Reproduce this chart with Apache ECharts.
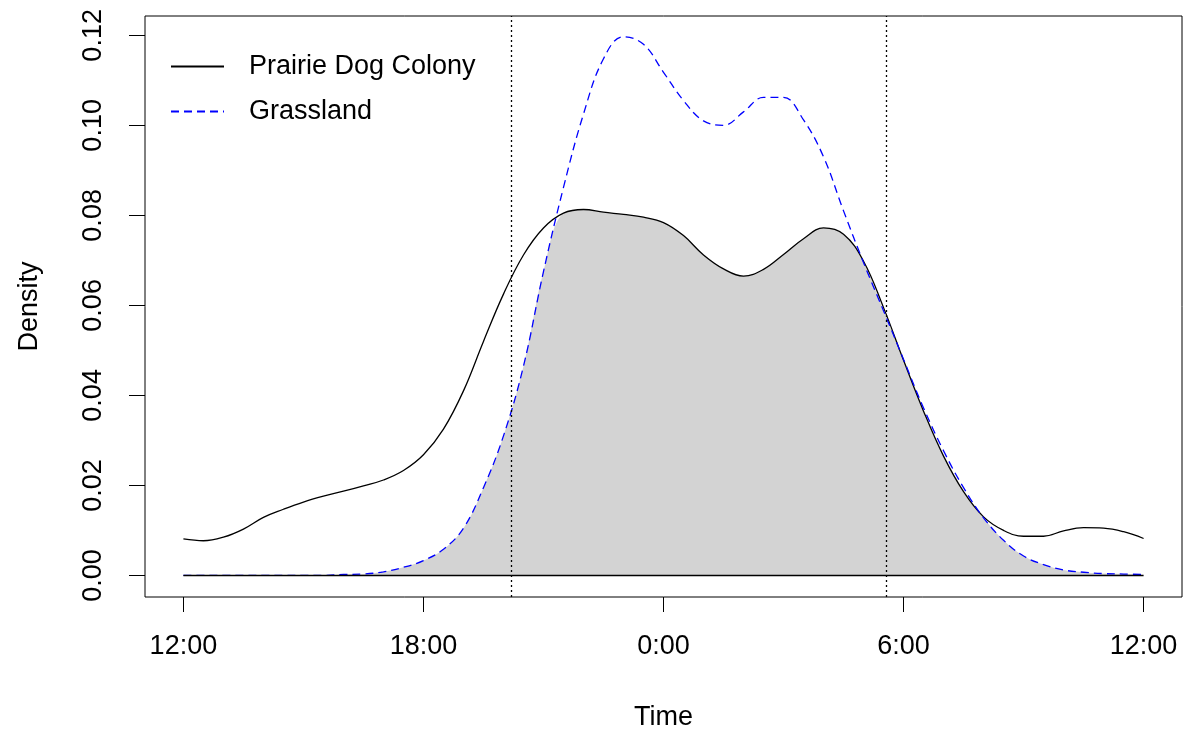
<!DOCTYPE html>
<html>
<head>
<meta charset="utf-8">
<script src="https://cdn.jsdelivr.net/npm/echarts@6/dist/echarts.min.js"></script>
<style>
  html, body { margin: 0; background: #fff; }
  #chart { width: 1183px; height: 732px; }
</style>
</head>
<body>
<div id="chart"></div>
<script>
// hours since 12:00 (noon to noon)
const hours = [0, 0.5, 1, 1.5, 2, 2.5, 3, 3.5, 4, 4.5, 5, 5.5, 6, 6.5, 7, 7.5, 8, 8.5,
  9, 9.5, 10, 10.5, 11, 11.5, 12, 12.5, 13, 13.5, 14, 14.5, 15, 15.5, 16, 16.5, 17,
  17.5, 18, 18.5, 19, 19.5, 20, 20.5, 21, 21.5, 22, 22.5, 23, 23.5, 24];

const colony = [0.0081, 0.0077, 0.0085, 0.0103, 0.0129, 0.0147, 0.0163, 0.0176, 0.0187,
  0.0199, 0.0212, 0.0233, 0.0268, 0.0325, 0.0410, 0.0520, 0.0625, 0.0712, 0.0772, 0.0805,
  0.0813, 0.0807, 0.0802, 0.0796, 0.0784, 0.0755, 0.0712, 0.0681, 0.0665, 0.0680, 0.0713,
  0.0748, 0.0772, 0.0758, 0.0698, 0.0595, 0.0478, 0.0365, 0.0265, 0.0186, 0.0130, 0.0100,
  0.0087, 0.0087, 0.0099, 0.0106, 0.0105, 0.0097, 0.0082];

const grassland = [0, 0, 0, 0, 0, 0, 0, 0, 0.0002, 0.0003, 0.0008, 0.0018, 0.0033, 0.0058,
  0.0105, 0.0195, 0.0310, 0.0465, 0.0675, 0.0862, 0.1025, 0.1148, 0.1197, 0.1180, 0.1118,
  0.1055, 0.1010, 0.1000, 0.1030, 0.1062, 0.1062, 0.1012, 0.0930, 0.0810, 0.0695, 0.0588,
  0.0480, 0.0372, 0.0277, 0.0195, 0.0128, 0.0078, 0.0043, 0.0024, 0.0012, 0.0007, 0.0004,
  0.0003, 0.0002];

const tickHours = [0, 6, 12, 18, 24];
const tickLabels = ["12:00", "18:00", "0:00", "6:00", "12:00"];
const densityTicks = [0, 0.02, 0.04, 0.06, 0.08, 0.1, 0.12];
const cutHours = [8.2, 17.57];

const font = "Liberation Sans, Arial, sans-serif";

const myChart = echarts.init(document.getElementById("chart"));

var option = {
  animation: false,
  backgroundColor: "#fff",
  grid: {
    left: 145,
    right: 1,
    top: 16,
    bottom: 135,
    outerBoundsMode: "none",
    containLabel: false,
    show: true,
    borderColor: "#000",
    borderWidth: 1,
  },
  legend: {
    data: ["Prairie Dog Colony", "Grassland"],
    orient: "vertical",
    left: 165,
    top: 48,
    itemWidth: 53,
    itemHeight: 14,
    itemGap: 18,
    itemStyle: { opacity: 0 },
    textStyle: {
      fontFamily: font,
      fontSize: 27,
      color: "#000",
      padding: [0, 0, 0, 20],
    },
  },
  xAxis: {
    type: "value",
    min: -0.96,
    max: 24.96,
    name: "Time",
    nameLocation: "middle",
    nameGap: 107,
    nameTextStyle: { fontFamily: font, fontSize: 27, color: "#000" },
    axisLine: { show: false, onZero: false },
    splitLine: { show: false },
    axisTick: {
      show: true,
      length: 15,
      customValues: tickHours,
      lineStyle: { color: "#000", width: 1 },
    },
    axisLabel: {
      customValues: tickHours,
      margin: 36,
      fontFamily: font,
      fontSize: 27,
      color: "#000",
      formatter: function (v) {
        return tickLabels[tickHours.indexOf(v)];
      },
    },
  },
  yAxis: {
    type: "value",
    min: -0.0048,
    max: 0.1243,
    name: "Density",
    nameLocation: "middle",
    nameGap: 102,
    nameTextStyle: { fontFamily: font, fontSize: 27, color: "#000" },
    axisLine: { show: false, onZero: false },
    splitLine: { show: false },
    axisTick: {
      show: true,
      length: 16,
      customValues: densityTicks,
      lineStyle: { color: "#000", width: 1 },
    },
    axisLabel: {
      customValues: densityTicks,
      rotate: 90,
      margin: 38,
      fontFamily: font,
      fontSize: 27,
      color: "#000",
      formatter: function (v) {
        return v.toFixed(2);
      },
    },
  },
  series: [
    {
      name: "overlap",
      type: "line",
      smooth: 0.4,
      symbol: "none",
      silent: true,
      z: 1,
      lineStyle: { width: 0 },
      areaStyle: { color: "#d3d3d3", opacity: 1, origin: 0 },
      data: hours.map((h, i) => [h, Math.min(colony[i], grassland[i])]),
      markLine: {
        silent: true,
        symbol: "none",
        label: { show: false },
        data: [
          [
            { coord: [hours[0], 0], lineStyle: { color: "#000", width: 1.3, type: "solid" } },
            { coord: [hours[hours.length - 1], 0] },
          ],
          { xAxis: cutHours[0], lineStyle: { color: "#000", width: 1.3, type: [2, 3] } },
          { xAxis: cutHours[1], lineStyle: { color: "#000", width: 1.3, type: [2, 3] } },
        ],
      },
    },
    {
      name: "Prairie Dog Colony",
      type: "line",
      smooth: 0.4,
      symbol: "none",
      z: 3,
      itemStyle: { color: "#000" },
      lineStyle: { color: "#000", width: 1.3, type: "solid" },
      data: hours.map((h, i) => [h, colony[i]]),
    },
    {
      name: "Grassland",
      type: "line",
      smooth: 0.4,
      symbol: "none",
      z: 3,
      itemStyle: { color: "#0000ff" },
      lineStyle: { color: "#0000ff", width: 1.3, type: [8, 5] },
      data: hours.map((h, i) => [h, grassland[i]]),
    },
  ],
};
myChart.setOption(option);
</script>
</body>
</html>
